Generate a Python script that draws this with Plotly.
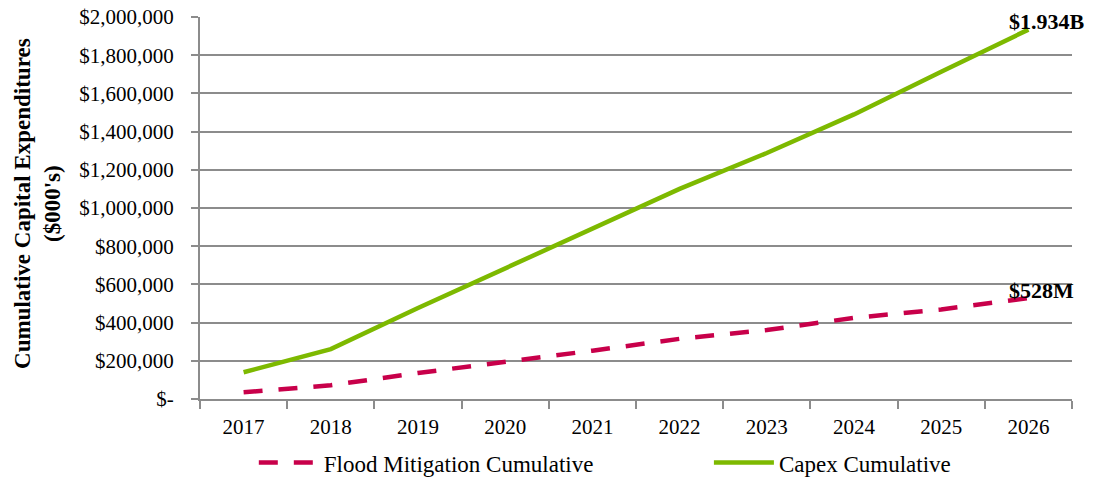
import plotly.graph_objects as go

# Fiscal years on the category axis
years = ["2017", "2018", "2019", "2020", "2021", "2022", "2023", "2024", "2025", "2026"]

# Cumulative spend, $000's
flood_cumulative = [35000, 72000, 136000, 192000, 253000, 315000, 361000, 425000, 469000, 528000]
capex_cumulative = [140000, 261000, 476000, 685000, 893000, 1100000, 1288000, 1490000, 1713000, 1934000]

# Y-axis ticks
y_tickvals = [0, 200000, 400000, 600000, 800000, 1000000, 1200000, 1400000, 1600000, 1800000, 2000000]
y_ticktext = ["$-", "$200,000", "$400,000", "$600,000", "$800,000", "$1,000,000",
              "$1,200,000", "$1,400,000", "$1,600,000", "$1,800,000", "$2,000,000"]

# End-of-series callouts
flood_label = "$528M"
capex_label = "$1.934B"

SERIF = "Liberation Serif, Times New Roman, serif"
GRID = "#8C8C8C"
GREEN = "#7DB900"
CRIMSON = "#C8004A"

fig = go.Figure()
fig.add_trace(go.Scatter(
    x=years, y=flood_cumulative, mode="lines", name="Flood Mitigation Cumulative",
    line=dict(color=CRIMSON, width=4.5, dash="19px,16px"), legend="legend",
))
fig.add_trace(go.Scatter(
    x=years, y=capex_cumulative, mode="lines", name="Capex Cumulative",
    line=dict(color=GREEN, width=4.5), legend="legend2",
))

# Category index of the final year (numeric strings would be read as indices)
last_idx = len(years) - 1
for val, txt in ((capex_cumulative[-1], capex_label), (flood_cumulative[-1], flood_label)):
    fig.add_annotation(
        x=last_idx, y=val, text=f"<b>{txt}</b>", showarrow=False,
        xanchor="left", yanchor="middle", xshift=-21, yshift=8,
        font=dict(family=SERIF, size=22, color="#000000"),
    )

fig.add_annotation(
    xref="paper", yref="paper", x=-0.187, y=0.513,
    text="<b>Cumulative Capital Expenditures<br>($000's)</b>",
    textangle=-90, showarrow=False, xanchor="center", yanchor="middle",
    font=dict(family=SERIF, size=23, color="#000000"),
)

# Legends anchored to the page so they sit in the bottom margin without resizing the plot
legend_common = dict(
    orientation="h", xref="container", yref="container", yanchor="top", xanchor="left",
    y=0.079, itemwidth=60, bgcolor="rgba(0,0,0,0)", font=dict(family=SERIF, size=23),
)

fig.update_layout(
    width=1094, height=479,
    margin=dict(l=200, r=22, t=17, b=80, autoexpand=False),
    paper_bgcolor="white", plot_bgcolor="white",
    font=dict(family=SERIF, size=21, color="#000000"),
    showlegend=True,
    legend=dict(x=0.232, **legend_common),
    legend2=dict(x=0.648, **legend_common),
    xaxis=dict(
        type="category", range=[-0.5, len(years) - 0.5],
        tickson="boundaries", ticks="outside", ticklen=8,
        tickcolor=GRID, tickwidth=2, showline=True, linecolor=GRID, linewidth=2,
        showgrid=False, ticklabelstandoff=8, tickangle=0,
        tickfont=dict(family=SERIF, size=21),
    ),
    yaxis=dict(
        range=[0, 2000000], tickvals=y_tickvals, ticktext=y_ticktext,
        ticks="outside", ticklen=7, tickcolor=GRID, tickwidth=2,
        showline=True, linecolor=GRID, linewidth=2,
        showgrid=True, gridcolor=GRID, gridwidth=1.5, zeroline=False,
        ticklabelstandoff=13,
    ),
)

fig.write_html("out.html")
